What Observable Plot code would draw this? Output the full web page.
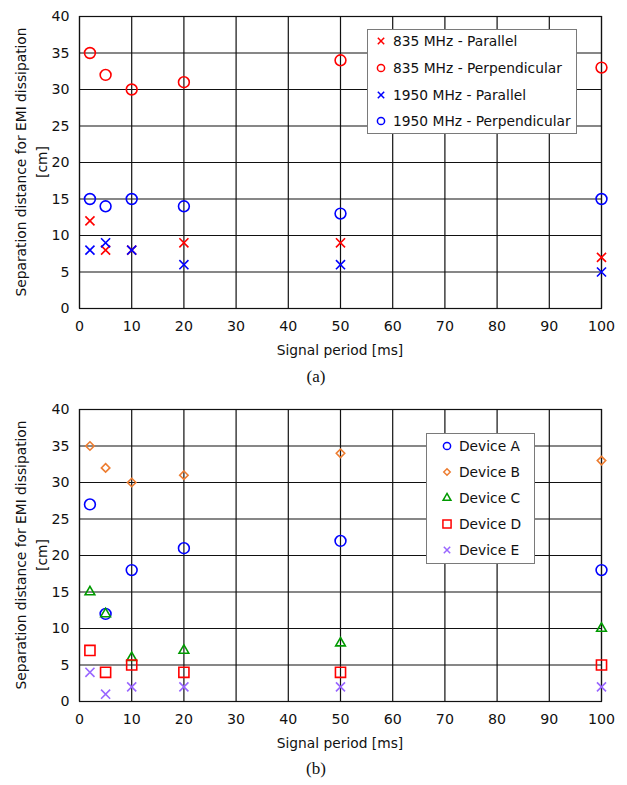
<!DOCTYPE html>
<html><head><meta charset="utf-8">
<script src="https://cdn.jsdelivr.net/npm/d3@7"></script>
<script src="https://cdn.jsdelivr.net/npm/@observablehq/plot@0.6"></script>
<style>
body{margin:0;background:#fff;}
#wrap{position:relative;width:627px;height:785px;font-family:"DejaVu Sans",sans-serif;color:#111;overflow:hidden;}
.panel{position:absolute;left:0;width:627px;height:362px;}
.panel svg{display:block;}
.ylab{position:absolute;left:32px;top:162px;transform:translate(-50%,-50%) rotate(-90deg);font-size:13.8px;line-height:21px;text-align:center;white-space:nowrap;}
.xlab{position:absolute;left:340px;top:350px;transform:translate(-50%,-50%);font-size:13.8px;white-space:nowrap;}
.cap{position:absolute;left:316px;transform:translate(-50%,-50%);font-family:"Liberation Serif",serif;font-size:17px;color:#111;}
.legend{position:absolute;background:#fff;border:1px solid #7a7a7a;box-sizing:border-box;}
.legend .row{position:absolute;left:0;height:20px;display:flex;align-items:center;font-size:13.8px;white-space:nowrap;}
.legend svg{display:block;}
</style>
</head><body><div id="wrap"></div>
<script>
// ---- shared axis data ----
const periods = [2, 5, 10, 20, 50, 100];
const xTicks = [0, 10, 20, 30, 40, 50, 60, 70, 80, 90, 100];
const yTicks = [0, 5, 10, 15, 20, 25, 30, 35, 40];
const xLabel = "Signal period [ms]";
const yLabel = ["Separation distance for EMI dissipation", "[cm]"];

// ---- panel (a) ----
const namesA = ["835 MHz - Parallel", "835 MHz - Perpendicular", "1950 MHz - Parallel", "1950 MHz - Perpendicular"];
const colorsA = ["#ff0000", "#ff0000", "#0000ff", "#0000ff"];
const symbolsA = ["times", "circle", "times", "circle"];
const a835Parallel = [12, 8, 8, 9, 9, 7];
const a835Perpendicular = [35, 32, 30, 31, 34, 33];
const a1950Parallel = [8, 9, 8, 6, 6, 5];
const a1950Perpendicular = [15, 14, 15, 14, 13, 15];
const valuesA = [a835Parallel, a835Perpendicular, a1950Parallel, a1950Perpendicular];

// ---- panel (b) ----
const namesB = ["Device A", "Device B", "Device C", "Device D", "Device E"];
const colorsB = ["#0000ff", "#ed7d31", "#009a00", "#ff0000", "#9966ff"];
const symbolsB = ["circle", "diamond2", "triangle", "square", "times"];
const deviceA = [27, 12, 18, 21, 22, 18];
const deviceB = [35, 32, 30, 31, 34, 33];
const deviceC = [15, 12, 6, 7, 8, 10];
const deviceD = [7, 4, 5, 4, 4, 5];
const deviceE = [4, 1, 2, 2, 2, 2];
const valuesB = [deviceA, deviceB, deviceC, deviceD, deviceE];

const symR = {circle: 5.4, times: 4.2, diamond2: 3.8, triangle: 3.6, square: 5.7};
const legR = {circle: 3.6, times: 3.0, diamond2: 2.9, triangle: 2.9, square: 4.6};
const d3Sym = {circle: d3.symbolCircle, times: d3.symbolTimes, diamond2: d3.symbolDiamond2, triangle: d3.symbolTriangle, square: d3.symbolSquare};

function makePanel(names, colors, symbols, values, top, caption, legendBox) {
  const panel = document.createElement("div");
  panel.className = "panel";
  panel.style.top = top + "px";
  const marks = [
    Plot.gridX(xTicks, {stroke: "#111", strokeOpacity: 1, strokeWidth: 1.2}),
    Plot.gridY(yTicks, {stroke: "#111", strokeOpacity: 1, strokeWidth: 1.2}),
    Plot.frame({stroke: "#111", strokeWidth: 1.2}),
    Plot.axisX(xTicks, {tickSize: 0, tickPadding: 12, fontSize: 14.2, label: null, fill: "#111"}),
    Plot.axisY(yTicks, {tickSize: 0, tickPadding: 10, fontSize: 14.2, label: null, fill: "#111"})
  ];
  names.forEach((name, k) => {
    const rows = periods.map((p, i) => ({x: p, y: values[k][i]}));
    marks.push(Plot.dot(rows, {x: "x", y: "y", symbol: symbols[k], r: symR[symbols[k]], stroke: colors[k], fill: "none", strokeWidth: 1.6}));
  });
  const svg = Plot.plot({
    width: 627, height: 362,
    marginTop: 16, marginBottom: 54, marginLeft: 79, marginRight: 26,
    style: {fontFamily: "DejaVu Sans, sans-serif", background: "#fff"},
    x: {domain: [0, 100], nice: false},
    y: {domain: [0, 40], nice: false},
    marks
  });
  panel.appendChild(svg);

  const yl = document.createElement("div");
  yl.className = "ylab";
  yl.innerHTML = yLabel.join("<br>");
  panel.appendChild(yl);

  const xl = document.createElement("div");
  xl.className = "xlab";
  xl.textContent = xLabel;
  panel.appendChild(xl);

  const cap = document.createElement("div");
  cap.className = "cap";
  cap.style.top = legendBox.capTop + "px";
  cap.textContent = caption;
  panel.appendChild(cap);

  const lg = document.createElement("div");
  lg.className = "legend";
  Object.assign(lg.style, {left: legendBox.left + "px", top: legendBox.top + "px", width: legendBox.width + "px", height: legendBox.height + "px"});
  names.forEach((name, k) => {
    const row = document.createElement("div");
    row.className = "row";
    row.style.top = (legendBox.first + k * legendBox.step - 10) + "px";
    row.style.left = legendBox.symX - 8 + "px";
    const s = d3.create("svg").attr("width", 16).attr("height", 20);
    const r = legR[symbols[k]];
    s.append("path")
      .attr("transform", "translate(8,10)")
      .attr("d", d3.symbol(d3Sym[symbols[k]], r * r * Math.PI)())
      .attr("fill", "none").attr("stroke", colors[k]).attr("stroke-width", 1.5);
    row.appendChild(s.node());
    const t = document.createElement("span");
    t.textContent = name;
    t.style.marginLeft = legendBox.gap + "px";
    row.appendChild(t);
    lg.appendChild(row);
  });
  panel.appendChild(lg);
  document.getElementById("wrap").appendChild(panel);
}

makePanel(namesA, colorsA, symbolsA, valuesA, 0, "(a)",
  {left: 367, top: 29, width: 210, height: 105, first: 11, step: 26.8, symX: 13, gap: 4, capTop: 377});
makePanel(namesB, colorsB, symbolsB, valuesB, 393, "(b)",
  {left: 426, top: 40, width: 109, height: 131, first: 12, step: 26, symX: 20, gap: 4, capTop: 376});
</script>
</body></html>
